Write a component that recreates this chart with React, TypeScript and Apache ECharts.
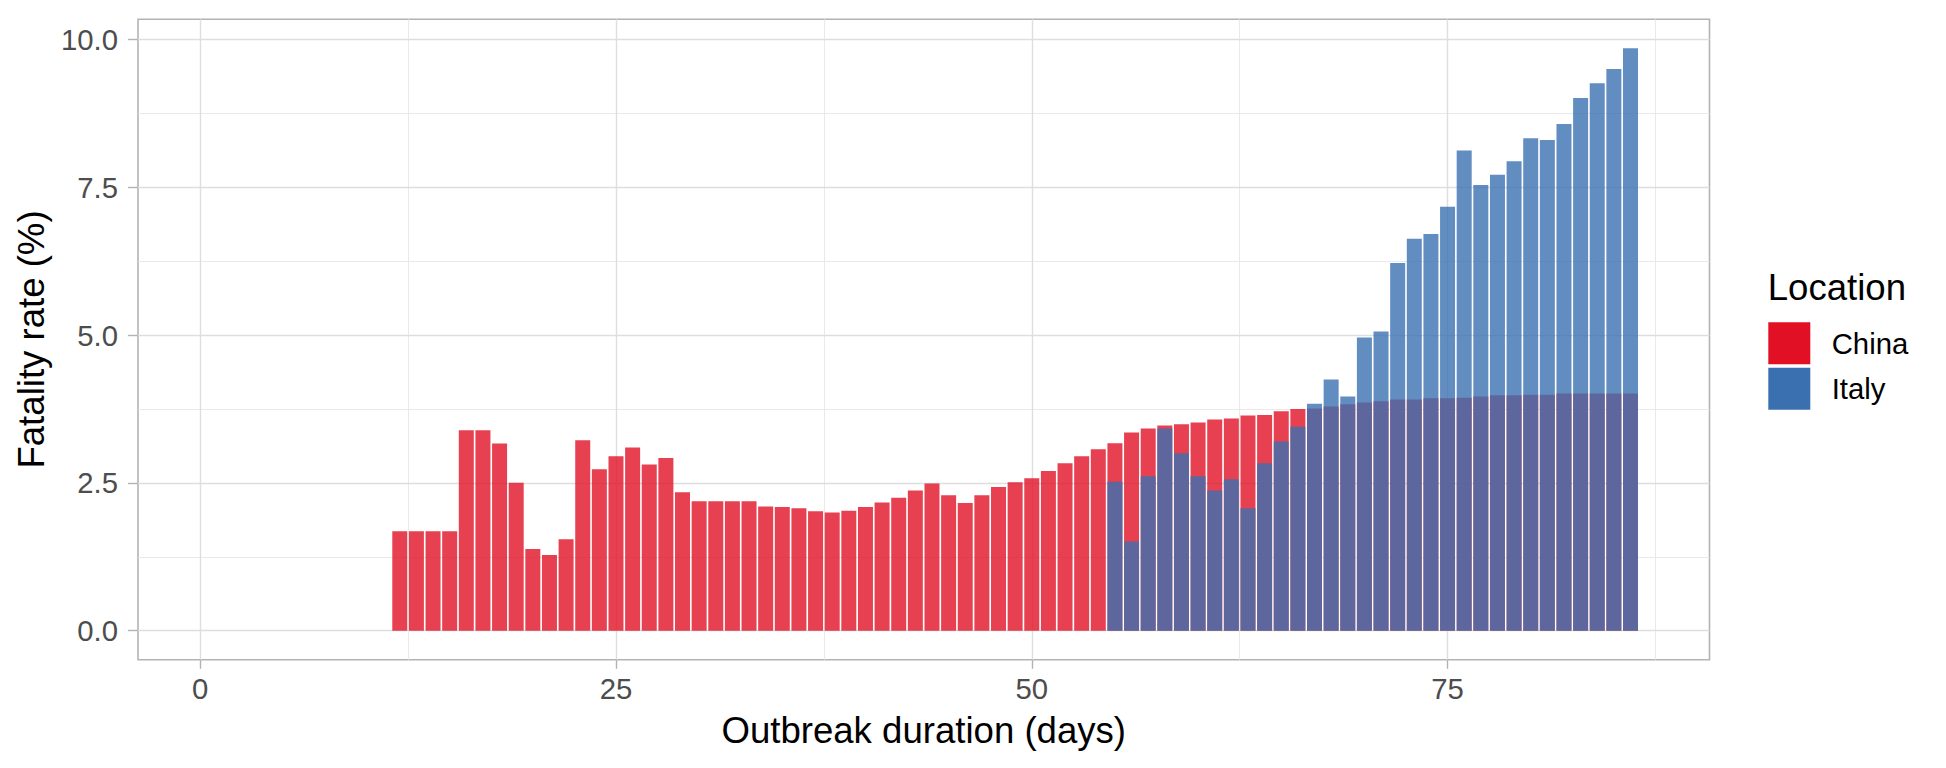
import React, { useEffect, useRef } from "react";
import * as echarts from "echarts";

// ---------------- data ----------------
const chinaStartDay = 1;
const chinaRates = [
  0, 0, 0, 0, 0, 0, 0, 0, 0, 0, 0,
  1.68, 1.68, 1.68, 1.68, 3.39, 3.39, 3.165, 2.5, 1.38, 1.28,
  1.545, 3.22, 2.73, 2.95, 3.1, 2.81, 2.92, 2.34, 2.19, 2.19,
  2.19, 2.19, 2.1, 2.09, 2.07, 2.02, 2.0, 2.03, 2.09, 2.17,
  2.25, 2.37, 2.49, 2.29, 2.16, 2.29, 2.43, 2.51, 2.58, 2.7,
  2.83, 2.95, 3.07, 3.17, 3.35, 3.42, 3.47, 3.49, 3.52, 3.57,
  3.59, 3.64, 3.65, 3.71, 3.75, 3.76, 3.79, 3.83, 3.86, 3.88,
  3.91, 3.91, 3.93, 3.93, 3.94, 3.96, 3.98, 3.98, 3.99, 3.99,
  4.01, 4.01, 4.01, 4.01, 4.01,
];
const italyStartDay = 55;
const italyRates = [
  2.52, 1.51, 2.61, 3.42, 3.0, 2.61, 2.37, 2.56, 2.07, 2.83,
  3.2, 3.45, 3.84, 4.25, 3.96, 4.96, 5.06, 6.22, 6.63, 6.71,
  7.17, 8.12, 7.54, 7.71, 7.94, 8.33, 8.3, 8.57, 9.01, 9.26,
  9.5, 9.85,
];
const seriesNames = ["China", "Italy"];
const xTicks = [0, 25, 50, 75];
const xMinorGrid = [12.5, 37.5, 62.5, 87.5];
const yTicks = [0, 2.5, 5, 7.5, 10];
const yMinorGrid = [1.25, 3.75, 6.25, 8.75];
const xTitle = "Outbreak duration (days)";
const yTitle = "Fatality rate (%)";
const legendTitle = "Location";

// ---------------- layout ----------------
const W = 1946;
const H = 768;
const FONT = "'Liberation Sans', Arial, Helvetica, sans-serif";
const CHINA_SOLID = "#E11025";
const ITALY_SOLID = "#3B70B0";
const CHINA_BAR = "rgba(225,16,37,0.8)";
const ITALY_BAR = "rgba(59,112,176,0.8)";
const TITLE_SIZE = 36.6;
const TEXT_SIZE = 29.3;

const toPairs = (start: number, vals: number[]) =>
  vals.map((v, i) => [start + i, v]);

function buildOption() {
  const gridMajor = { color: "#DEDEDE", width: 1.4, type: "solid" };
  const gridMinor = { color: "#E6E6E6", width: 0.9, type: "solid" };
  const markData: any[] = [
    ...xMinorGrid.map((v) => ({ xAxis: v, lineStyle: gridMinor })),
    ...yMinorGrid.map((v) => ({ yAxis: v, lineStyle: gridMinor })),
    ...xTicks.map((v) => ({ xAxis: v, lineStyle: gridMajor })),
    ...yTicks.map((v) => ({ yAxis: v, lineStyle: gridMajor })),
  ];
  return {
    animation: false,
    backgroundColor: "#ffffff",
    grid: {
      left: 138,
      right: W - 1709.5,
      top: 19.2,
      bottom: H - 659.8,
      show: true,
      borderColor: "#B3B3B3",
      borderWidth: 1.6,
      backgroundColor: "transparent",
    },
    xAxis: {
      type: "value",
      min: -3.74,
      max: 90.75,
      name: xTitle,
      nameLocation: "middle",
      nameGap: 52.4,
      nameTextStyle: { fontFamily: FONT, fontSize: TITLE_SIZE, color: "#000000" },
      axisLine: { show: false, onZero: false },
      axisTick: {
        show: true,
        customValues: xTicks,
        length: 9,
        lineStyle: { color: "#B3B3B3", width: 1.4 },
      },
      axisLabel: {
        show: true,
        customValues: xTicks,
        margin: 14.2,
        fontFamily: FONT,
        fontSize: TEXT_SIZE,
        color: "#4D4D4D",
      },
      splitLine: { show: false },
    },
    yAxis: {
      type: "value",
      min: -0.4925,
      max: 10.3425,
      name: yTitle,
      nameLocation: "middle",
      nameGap: 81,
      nameRotate: 90,
      nameTextStyle: { fontFamily: FONT, fontSize: TITLE_SIZE, color: "#000000" },
      axisLine: { show: false, onZero: false },
      axisTick: {
        show: true,
        customValues: yTicks,
        length: 10,
        lineStyle: { color: "#B3B3B3", width: 1.4 },
      },
      axisLabel: {
        show: true,
        customValues: yTicks,
        margin: 20,
        fontFamily: FONT,
        fontSize: TEXT_SIZE,
        color: "#4D4D4D",
        formatter: (v: number) => v.toFixed(1),
      },
      splitLine: { show: false },
    },
    legend: {
      orient: "vertical",
      left: 1768.3,
      top: 322.3,
      padding: 0,
      itemWidth: 42,
      itemHeight: 42,
      itemGap: 3.4,
      icon: "rect",
      selectedMode: false,
      textStyle: {
        fontFamily: FONT,
        fontSize: TEXT_SIZE,
        color: "#000000",
        padding: [0, 0, 0, 16.4],
      },
      data: [
        { name: seriesNames[0], itemStyle: { color: CHINA_SOLID, opacity: 1 } },
        { name: seriesNames[1], itemStyle: { color: ITALY_SOLID, opacity: 1 } },
      ],
    },
    graphic: [
      {
        type: "text",
        x: 1767.7,
        y: 287.3,
        silent: true,
        style: {
          text: legendTitle,
          fontFamily: FONT,
          fontSize: TITLE_SIZE,
          fill: "#000000",
          align: "left",
          verticalAlign: "middle",
        },
      },
    ],
    series: [
      {
        name: "grid",
        type: "line",
        data: [],
        silent: true,
        markLine: {
          silent: true,
          z: 1,
          symbol: ["none", "none"],
          label: { show: false },
          emphasis: { disabled: true },
          animation: false,
          data: markData,
        },
      },
      {
        name: seriesNames[0],
        type: "bar",
        data: toPairs(chinaStartDay, chinaRates),
        barWidth: 15,
        barGap: "-100%",
        itemStyle: { color: CHINA_BAR },
        z: 2,
      },
      {
        name: seriesNames[1],
        type: "bar",
        data: toPairs(italyStartDay, italyRates),
        barWidth: 15,
        barGap: "-100%",
        itemStyle: { color: ITALY_BAR },
        z: 3,
      },
    ],
  };
}

export default function App() {
  const ref = useRef<HTMLDivElement>(null);
  useEffect(() => {
    document.body.style.margin = "0";
    const el = ref.current;
    if (!el) return;
    const chart = echarts.init(el, null, { renderer: "svg", width: W, height: H });
    chart.setOption(buildOption() as any);
    return () => chart.dispose();
  }, []);
  return (
    <div
      style={{
        position: "absolute",
        left: 0,
        top: 0,
        width: W,
        height: H,
        overflow: "hidden",
        background: "#ffffff",
      }}
    >
      <div ref={ref} style={{ width: W, height: H }} />
    </div>
  );
}
